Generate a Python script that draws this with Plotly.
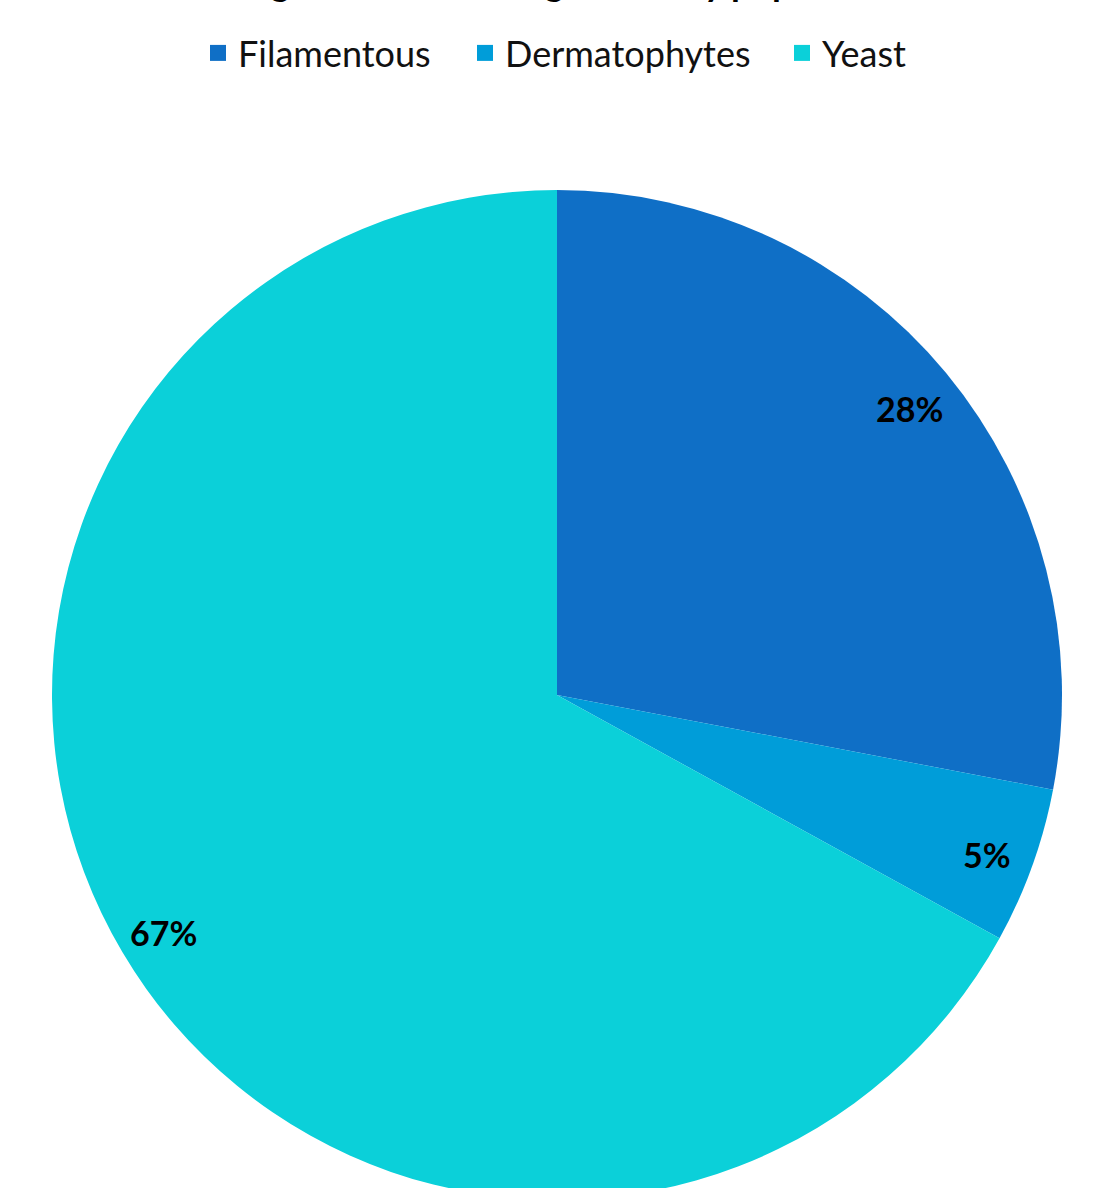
import math
import plotly.graph_objects as go

categories = ["Filamentous", "Dermatophytes", "Yeast"]
values = [28, 5, 67]
colors = ["#0F6FC6", "#009DD9", "#0BD0D9"]
title_text = "Fungal isolates among the study population"

W, H = 1095, 1220
ml, mr, mt, mb = 52, 33, 190, 20
ph = H - mt - mb
pw = W - ml - mr

fig = go.Figure(go.Pie(
    labels=categories, values=values, sort=False, direction="clockwise", rotation=0,
    marker=dict(colors=colors, line=dict(width=0)), textinfo="none", hoverinfo="label+percent",
    showlegend=False,
))

# legend entries with square markers, each in its own legend box
legend_left_px = [198, 465, 782]
legend_names = ["legend", "legend2", "legend3"]
for name, col, lg in zip(categories, colors, legend_names):
    fig.add_trace(go.Scatter(
        x=[None], y=[None], mode="markers", name=name, legend=lg,
        marker=dict(symbol="square", size=20, color=col),
    ))

total = sum(values)
cum = 0
for v in values:
    mid = (cum + v / 2) / total * 2 * math.pi
    cum += v
    rr = 0.5 * 0.905
    fig.add_annotation(
        x=0.5 + rr * math.sin(mid), y=0.5 + rr * math.cos(mid), xref="paper", yref="paper",
        xanchor="center", yanchor="middle", yshift=-5,
        text=f"{round(v / total * 100)}%", showarrow=False,
        font=dict(family="Lato", size=34, color="black", weight="bold"),
    )

fig.add_annotation(
    x=0.5, xref="paper", y=(H - mb - 6) / ph, yref="paper", yanchor="bottom",
    text=f"<b>{title_text}</b>", showarrow=False,
    font=dict(family="Lato", size=36, color="black"),
)

legend_common = dict(orientation="h", xanchor="left", y=(H - mb - 53) / ph, yanchor="middle",
                     font=dict(family="Lato", size=36, color="#111"), itemwidth=30,
                     itemsizing="trace", bgcolor="rgba(0,0,0,0)")
layout_legends = {}
for lg, px in zip(legend_names, legend_left_px):
    layout_legends[lg] = dict(legend_common, x=(px - ml) / pw)

fig.update_layout(
    width=W, height=H, margin=dict(l=ml, r=mr, t=mt, b=mb),
    paper_bgcolor="white", plot_bgcolor="white",
    xaxis=dict(visible=False), yaxis=dict(visible=False),
    **layout_legends,
)

fig.write_html("out.html")
